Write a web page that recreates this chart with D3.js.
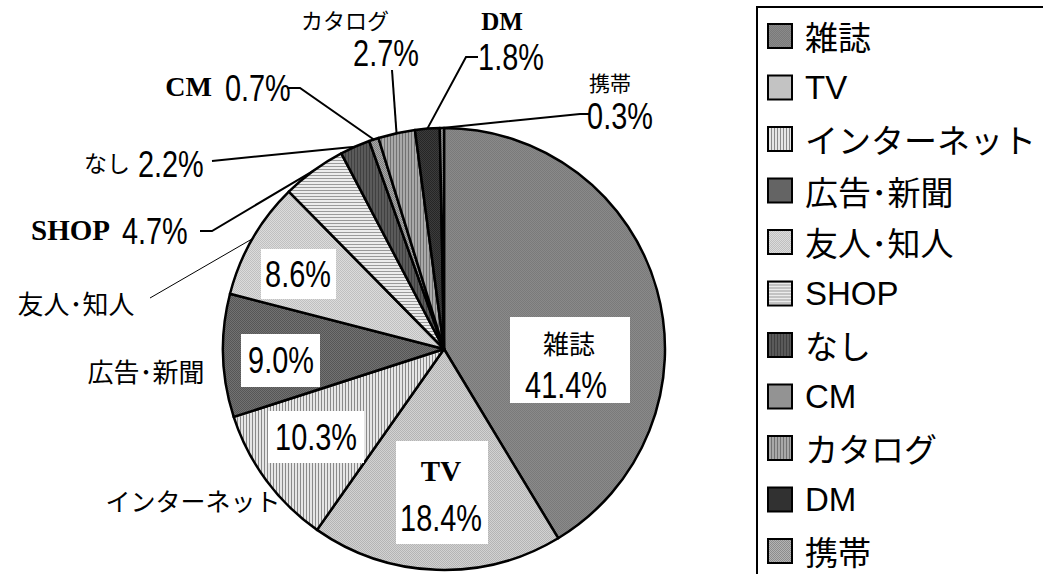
<!DOCTYPE html>
<html><head><meta charset="utf-8">
<script src="https://cdn.jsdelivr.net/npm/d3@7"></script>
<style>
html,body{margin:0;padding:0;background:#fff;}
svg{display:block;}
</style></head>
<body>
<svg id="chart" width="1043" height="574"></svg>
<script>
// ---- data ----
const categories = ["雑誌","TV","インターネット","広告･新聞","友人･知人","SHOP","なし","CM","カタログ","DM","携帯"];
const values = [41.4,18.4,10.3,9.0,8.6,4.7,2.2,0.7,2.7,1.8,0.3];

// ---- styles (patterns) ----
const patternDefs = [
  {type:"check", a:"#7a7a7a", b:"#8a8a8a"},   // 雑誌
  {type:"check", a:"#b4b4b4", b:"#d2d2d2"},   // TV
  {type:"vstripe", a:"#e6e6e6", b:"#8a8a8a"}, // インターネット
  {type:"check", a:"#565656", b:"#727272"},   // 広告
  {type:"check", a:"#c0c0c0", b:"#dcdcdc"},   // 友人
  {type:"hstripe", a:"#ececec", b:"#9a9a9a"}, // SHOP
  {type:"vstripe", a:"#5a5a5a", b:"#404040"}, // なし
  {type:"check", a:"#7e7e7e", b:"#a8a8a8"},   // CM
  {type:"vstripe", a:"#a8a8a8", b:"#727272"}, // カタログ
  {type:"check", a:"#262626", b:"#3c3c3c"},   // DM
  {type:"check", a:"#8c8c8c", b:"#b4b4b4"}    // 携帯
];

const svg = d3.select("#chart");
const defs = svg.append("defs");
patternDefs.forEach((p,i)=>{
  const pat = defs.append("pattern").attr("id","p"+i).attr("patternUnits","userSpaceOnUse");
  if(p.type==="check"){
    pat.attr("width",2).attr("height",2);
    pat.append("rect").attr("width",2).attr("height",2).attr("fill",p.a);
    pat.append("rect").attr("width",1).attr("height",1).attr("fill",p.b);
    pat.append("rect").attr("x",1).attr("y",1).attr("width",1).attr("height",1).attr("fill",p.b);
  } else if(p.type==="vstripe"){
    pat.attr("width",3).attr("height",3);
    pat.append("rect").attr("width",3).attr("height",3).attr("fill",p.a);
    pat.append("rect").attr("width",1).attr("height",3).attr("fill",p.b);
  } else {
    pat.attr("width",3).attr("height",3);
    pat.append("rect").attr("width",3).attr("height",3).attr("fill",p.a);
    pat.append("rect").attr("width",3).attr("height",1).attr("fill",p.b);
  }
});

const cx = 444, cy = 349, R = 221;
const pie = d3.pie().sort(null).value(d=>d);
const arcs = pie(values);
const arc = d3.arc().innerRadius(0).outerRadius(R);
const edgeArc = d3.arc().innerRadius(R).outerRadius(R);

const g = svg.append("g").attr("transform",`translate(${cx},${cy})`);
g.selectAll("path.slice").data(arcs).join("path")
  .attr("class","slice")
  .attr("d",arc)
  .attr("fill",(d,i)=>`url(#p${i})`)
  .attr("stroke","#000").attr("stroke-width",2.5).attr("stroke-linejoin","round");

const fmt = v => d3.format(".1f")(v) + "%";
const CJK = "'Noto Sans CJK JP', sans-serif";
const SANS = "'Liberation Sans', Arial, sans-serif";
const SERIF = "'Liberation Serif', 'Times New Roman', serif";

// ---- label layout ----
const layout = [
  {box:[510,317,120,86], name:{x:569,y:342,anchor:"middle",font:CJK,size:26}, val:{x:566,y:385,anchor:"middle"}},
  {box:[396,441,92,103], name:{x:441,y:471,anchor:"middle",font:SERIF,size:29,bold:true}, val:{x:441,y:518,anchor:"middle"}},
  {box:[268,411,96,52], name:{x:193,y:500,anchor:"middle",font:CJK,size:25}, val:{x:316,y:437,anchor:"middle"}},
  {box:[241,334,79,53], name:{x:146,y:370,anchor:"middle",font:CJK,size:26}, val:{x:281,y:360,anchor:"middle"}},
  {box:[261,249,75,50], name:{x:76,y:302,anchor:"middle",font:CJK,size:26}, val:{x:298,y:274,anchor:"middle"}, leader:[[150,298]], thin:true},
  {name:{x:110,y:230,anchor:"end",font:SERIF,size:29,bold:true}, val:{x:122,y:231,anchor:"start"}, leader:[[200,231],[212,231]]},
  {name:{x:130,y:162,anchor:"end",font:CJK,size:23}, val:{x:138,y:164,anchor:"start"}, leader:[[212,161]]},
  {name:{x:212,y:86,anchor:"end",font:SERIF,size:28,bold:true}, val:{x:225,y:88,anchor:"start"}, leader:[[287,88],[300,88]]},
  {name:{x:345,y:19,anchor:"middle",font:CJK,size:22}, val:{x:386,y:53,anchor:"middle"}, leader:[[392,70]]},
  {name:{x:502,y:21,anchor:"middle",font:SERIF,size:25,bold:true}, val:{x:511,y:57,anchor:"middle"}, leader:[[478,57],[466,57]]},
  {name:{x:610,y:82,anchor:"middle",font:CJK,size:21}, val:{x:620,y:116,anchor:"middle"}, leader:[[590,114],[580,114]]}
];

const lab = svg.append("g");
layout.forEach((L,i)=>{
  if(L.leader){
    const e = edgeArc.centroid(arcs[i]);
    const pts = L.leader.concat([[cx+e[0], cy+e[1]]]);
    lab.append("path").attr("d", d3.line()(pts)).attr("fill","none")
      .attr("stroke","#000").attr("stroke-width", L.thin?1:2);
  }
  if(L.box){
    lab.append("rect").attr("x",L.box[0]).attr("y",L.box[1]).attr("width",L.box[2]).attr("height",L.box[3]).attr("fill","#fff");
  }
  const n = L.name;
  lab.append("text").attr("x",n.x).attr("y",n.y).attr("text-anchor",n.anchor)
    .attr("dominant-baseline","central").attr("font-family",n.font).attr("font-size",n.size)
    .attr("font-weight",n.bold?"bold":"normal").attr("fill","#000").text(categories[i]);
  const v = L.val;
  lab.append("text").attr("transform",`translate(${v.x},${v.y}) scale(0.78,1)`)
    .attr("text-anchor",v.anchor).attr("dominant-baseline","central")
    .attr("font-family",SANS).attr("font-size",37).attr("fill","#000").text(fmt(values[i]));
});

// ---- legend ----
const leg = svg.append("g");
leg.append("rect").attr("x",757).attr("y",7).attr("width",400).attr("height",600)
  .attr("fill","#fff").attr("stroke","#000").attr("stroke-width",2);
const ly = d3.scalePoint().domain(categories).range([36,551]);
const items = leg.selectAll("g.item").data(categories).join("g").attr("class","item")
  .attr("transform",d=>`translate(0,${ly(d)})`);
items.append("rect").attr("x",768).attr("y",-12).attr("width",24).attr("height",24)
  .attr("fill",(d,i)=>`url(#p${i})`).attr("stroke","#000").attr("stroke-width",2);
items.append("text").attr("x",805).attr("y",0).attr("dominant-baseline","central")
  .attr("font-family",d=>/^[A-Z]+$/.test(d)?SANS:CJK).attr("font-size",33).attr("fill","#000").text(d=>d);
</script>
</body></html>
